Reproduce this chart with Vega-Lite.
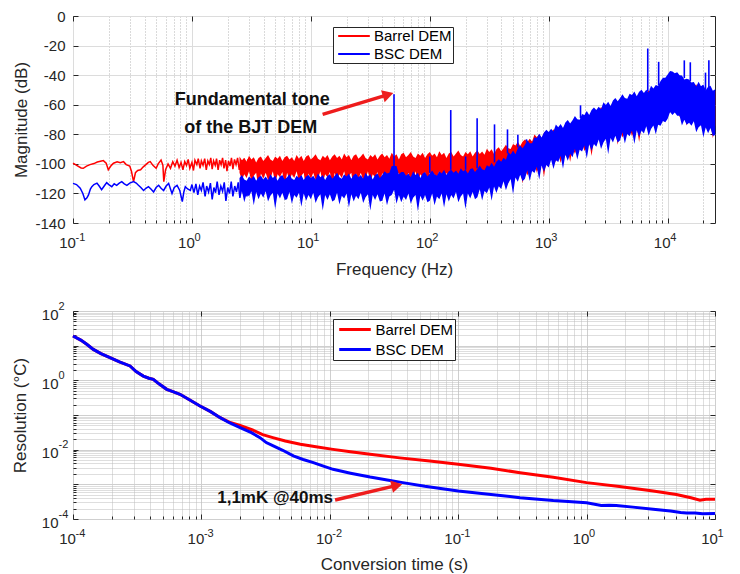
{
  "$schema": "https://vega.github.io/schema/vega-lite/v6.json",
  "padding": {"left": 10, "top": 8, "right": 2, "bottom": 2},
  "background": "white",
  "spacing": 21,
  "datasets": {
    "redLine": [
      {"f":0.1,"m":-99.6},{"f":0.105,"m":-100.5},{"f":0.11,"m":-101.5},{"f":0.117,"m":-102.8},{"f":0.122,"m":-103},{"f":0.13,"m":-101.5},{"f":0.139,"m":-100.5},{"f":0.15,"m":-99.8},{"f":0.16,"m":-98.8},{"f":0.17,"m":-98.3},{"f":0.18,"m":-97.8},{"f":0.19,"m":-99.5},{"f":0.198,"m":-104},{"f":0.21,"m":-101},{"f":0.219,"m":-99.6},{"f":0.235,"m":-98.6},{"f":0.25,"m":-99.3},{"f":0.266,"m":-98.5},{"f":0.28,"m":-100.5},{"f":0.3,"m":-101.5},{"f":0.31,"m":-105},{"f":0.323,"m":-112},{"f":0.335,"m":-106},{"f":0.35,"m":-104.5},{"f":0.37,"m":-104},{"f":0.39,"m":-102},{"f":0.41,"m":-100.5},{"f":0.43,"m":-99},{"f":0.446,"m":-98.5},{"f":0.47,"m":-101},{"f":0.5,"m":-103},{"f":0.52,"m":-100},{"f":0.55,"m":-97.4},{"f":0.57,"m":-101},{"f":0.58,"m":-112},{"f":0.6,"m":-104},{"f":0.63,"m":-100},{"f":0.66,"m":-103},{"f":0.69,"m":-98.5},{"f":0.72,"m":-101.5},{"f":0.75,"m":-97.5},{"f":0.78,"m":-102.5},{"f":0.81,"m":-99},{"f":0.84,"m":-104},{"f":0.87,"m":-98.5},{"f":0.9,"m":-101},{"f":0.93,"m":-97},{"f":0.96,"m":-103},{"f":1.0,"m":-99},{"f":1.03,"m":-104.5},{"f":1.06,"m":-97.5},{"f":1.1,"m":-100.5},{"f":1.13,"m":-96.5},{"f":1.17,"m":-103},{"f":1.2,"m":-98},{"f":1.24,"m":-101},{"f":1.28,"m":-96.5},{"f":1.32,"m":-104},{"f":1.36,"m":-98},{"f":1.4,"m":-100.5},{"f":1.44,"m":-96},{"f":1.48,"m":-103.5},{"f":1.52,"m":-98},{"f":1.57,"m":-101},{"f":1.61,"m":-96.5},{"f":1.66,"m":-104},{"f":1.71,"m":-97.5},{"f":1.76,"m":-100.5},{"f":1.81,"m":-96},{"f":1.86,"m":-103},{"f":1.92,"m":-97.5},{"f":1.97,"m":-105},{"f":2.03,"m":-98},{"f":2.09,"m":-101.5},{"f":2.15,"m":-96},{"f":2.21,"m":-103.5},{"f":2.28,"m":-97},{"f":2.35,"m":-100.5},{"f":2.42,"m":-96},{"f":2.5,"m":-104},{"f":2.58,"m":-97.5},{"f":2.66,"m":-101},{"f":2.75,"m":-96.5},{"f":2.85,"m":-103},{"f":2.95,"m":-97}
    ],
    "blueLine": [
      {"f":0.1,"m":-113.2},{"f":0.107,"m":-114},{"f":0.115,"m":-116.5},{"f":0.121,"m":-120},{"f":0.126,"m":-124.4},{"f":0.131,"m":-123},{"f":0.135,"m":-121},{"f":0.14,"m":-117},{"f":0.144,"m":-115.4},{"f":0.15,"m":-114},{"f":0.159,"m":-113},{"f":0.166,"m":-115},{"f":0.174,"m":-117.5},{"f":0.183,"m":-115},{"f":0.192,"m":-112.7},{"f":0.2,"m":-114},{"f":0.212,"m":-115.4},{"f":0.222,"m":-113.5},{"f":0.233,"m":-114.5},{"f":0.245,"m":-113},{"f":0.257,"m":-112},{"f":0.27,"m":-113.5},{"f":0.284,"m":-114.5},{"f":0.3,"m":-113},{"f":0.323,"m":-112},{"f":0.34,"m":-113},{"f":0.355,"m":-114.5},{"f":0.372,"m":-116},{"f":0.392,"m":-118},{"f":0.41,"m":-116.5},{"f":0.431,"m":-115.4},{"f":0.452,"m":-117},{"f":0.476,"m":-119},{"f":0.5,"m":-116},{"f":0.525,"m":-114.5},{"f":0.55,"m":-116.5},{"f":0.578,"m":-118},{"f":0.607,"m":-115},{"f":0.637,"m":-113.2},{"f":0.66,"m":-117},{"f":0.68,"m":-120},{"f":0.71,"m":-116},{"f":0.75,"m":-114.5},{"f":0.79,"m":-118},{"f":0.83,"m":-125.5},{"f":0.855,"m":-119},{"f":0.88,"m":-115.4},{"f":0.92,"m":-117},{"f":0.97,"m":-118},{"f":1.0,"m":-114},{"f":1.04,"m":-119.5},{"f":1.08,"m":-113.5},{"f":1.12,"m":-121},{"f":1.16,"m":-115},{"f":1.2,"m":-118},{"f":1.24,"m":-112.5},{"f":1.29,"m":-122},{"f":1.33,"m":-115},{"f":1.38,"m":-119},{"f":1.43,"m":-113},{"f":1.48,"m":-124},{"f":1.53,"m":-116},{"f":1.58,"m":-119.5},{"f":1.63,"m":-112},{"f":1.69,"m":-121},{"f":1.75,"m":-115},{"f":1.81,"m":-118.5},{"f":1.87,"m":-112.5},{"f":1.93,"m":-125},{"f":2.0,"m":-116},{"f":2.07,"m":-120},{"f":2.14,"m":-112},{"f":2.21,"m":-122},{"f":2.29,"m":-115},{"f":2.37,"m":-119},{"f":2.45,"m":-112.5},{"f":2.53,"m":-123},{"f":2.62,"m":-116},{"f":2.71,"m":-120},{"f":2.8,"m":-112},{"f":2.9,"m":-122},{"f":3.0,"m":-115}
    ],
    "redBand": [
      {"f":2.512,"lo":-106,"hi":-95},{"f":2.63,"lo":-111,"hi":-97.5},{"f":2.754,"lo":-107,"hi":-96},{"f":2.884,"lo":-109.5,"hi":-98.5},{"f":3.02,"lo":-105,"hi":-94.5},{"f":3.162,"lo":-112,"hi":-97},{"f":3.311,"lo":-108,"hi":-95.5},{"f":3.467,"lo":-106,"hi":-99},{"f":3.631,"lo":-117,"hi":-96},{"f":3.802,"lo":-106.5,"hi":-95},
      {"f":3.981,"lo":-110,"hi":-98},{"f":4.169,"lo":-106,"hi":-96},{"f":4.365,"lo":-111,"hi":-94},{"f":4.571,"lo":-110,"hi":-97},{"f":4.786,"lo":-105,"hi":-98},{"f":5.012,"lo":-113,"hi":-95},{"f":5.248,"lo":-107,"hi":-96.5},{"f":5.495,"lo":-109,"hi":-94.5},{"f":5.754,"lo":-105.5,"hi":-98},{"f":6.026,"lo":-115,"hi":-95.5},
      {"f":6.31,"lo":-106,"hi":-94.5},{"f":6.607,"lo":-111,"hi":-97},{"f":6.918,"lo":-107,"hi":-95.5},{"f":7.244,"lo":-109.5,"hi":-98},{"f":7.586,"lo":-105,"hi":-94},{"f":7.943,"lo":-112,"hi":-96.5},{"f":8.318,"lo":-108,"hi":-94.5},{"f":8.71,"lo":-106,"hi":-98},{"f":9.12,"lo":-117,"hi":-95},{"f":9.55,"lo":-106.5,"hi":-94},
      {"f":10,"lo":-110,"hi":-97},{"f":10.47,"lo":-106,"hi":-95.5},{"f":10.96,"lo":-111,"hi":-93.5},{"f":11.48,"lo":-110,"hi":-96.5},{"f":12.02,"lo":-105,"hi":-97.5},{"f":12.59,"lo":-113,"hi":-94.5},{"f":13.18,"lo":-107,"hi":-96},{"f":13.8,"lo":-109,"hi":-94},{"f":14.45,"lo":-105.5,"hi":-97.5},{"f":15.14,"lo":-115,"hi":-95},
      {"f":15.85,"lo":-106,"hi":-93.5},{"f":16.6,"lo":-111,"hi":-96},{"f":17.38,"lo":-107,"hi":-94.5},{"f":18.2,"lo":-109.5,"hi":-97},{"f":19.05,"lo":-105,"hi":-93},{"f":19.95,"lo":-112,"hi":-95.5},{"f":20.89,"lo":-108,"hi":-94},{"f":21.88,"lo":-106,"hi":-97.5},{"f":22.91,"lo":-117,"hi":-94.5},{"f":23.99,"lo":-106.5,"hi":-93.5},
      {"f":25.12,"lo":-110,"hi":-96.5},{"f":26.3,"lo":-106,"hi":-95},{"f":27.54,"lo":-111,"hi":-93},{"f":28.84,"lo":-110,"hi":-96},{"f":30.2,"lo":-105,"hi":-97},{"f":31.62,"lo":-113,"hi":-94},{"f":33.11,"lo":-107,"hi":-95.5},{"f":34.67,"lo":-109,"hi":-93.5},{"f":36.31,"lo":-105.5,"hi":-97},{"f":38.02,"lo":-115,"hi":-94.5},
      {"f":39.81,"lo":-106,"hi":-93},{"f":41.69,"lo":-111,"hi":-95.5},{"f":43.65,"lo":-107,"hi":-94},{"f":45.71,"lo":-109.5,"hi":-96.5},{"f":47.86,"lo":-105,"hi":-92.5},{"f":50.12,"lo":-112,"hi":-95},{"f":52.48,"lo":-108,"hi":-93.5},{"f":54.95,"lo":-106,"hi":-97},{"f":57.54,"lo":-117,"hi":-93.5},{"f":60.26,"lo":-106.5,"hi":-92.5},
      {"f":63.1,"lo":-110,"hi":-95.5},{"f":66.07,"lo":-106,"hi":-94},{"f":69.18,"lo":-111,"hi":-92},{"f":72.44,"lo":-110,"hi":-95},{"f":75.86,"lo":-105,"hi":-96},{"f":79.43,"lo":-113,"hi":-93},{"f":83.18,"lo":-107,"hi":-94.5},{"f":87.1,"lo":-109,"hi":-92.5},{"f":91.2,"lo":-105.5,"hi":-96},{"f":95.5,"lo":-115,"hi":-93.5},
      {"f":100,"lo":-106,"hi":-92},{"f":104.7,"lo":-111,"hi":-94.5},{"f":109.6,"lo":-107,"hi":-93},{"f":114.8,"lo":-109.5,"hi":-95.5},{"f":120.2,"lo":-105,"hi":-91.5},{"f":125.9,"lo":-112,"hi":-94},{"f":131.8,"lo":-108,"hi":-92.5},{"f":138,"lo":-106,"hi":-96},{"f":144.5,"lo":-117,"hi":-93},{"f":151.4,"lo":-106.5,"hi":-92},
      {"f":158.5,"lo":-110,"hi":-95},{"f":166,"lo":-106,"hi":-93},{"f":173.8,"lo":-111,"hi":-91},{"f":182,"lo":-110,"hi":-94},{"f":190.5,"lo":-105,"hi":-95},{"f":199.5,"lo":-113,"hi":-92},{"f":208.9,"lo":-107,"hi":-93.5},{"f":218.8,"lo":-109,"hi":-91.5},{"f":229.1,"lo":-105.5,"hi":-95},{"f":239.9,"lo":-115,"hi":-92.5},
      {"f":251.2,"lo":-106,"hi":-91},{"f":263,"lo":-111,"hi":-93.3},{"f":275.4,"lo":-107,"hi":-91.6},{"f":288.4,"lo":-109.5,"hi":-93.9},{"f":302,"lo":-105,"hi":-89.7},{"f":316.2,"lo":-112,"hi":-92},{"f":331.1,"lo":-108,"hi":-90.2},{"f":346.7,"lo":-106,"hi":-93.4},{"f":363.1,"lo":-117,"hi":-90.1},{"f":380.2,"lo":-106.5,"hi":-88.8},
      {"f":398.1,"lo":-115,"hi":-91.5},{"f":416.9,"lo":-110.2,"hi":-89.5},{"f":436.5,"lo":-114.4,"hi":-87},{"f":457.1,"lo":-112.6,"hi":-89.5},{"f":478.6,"lo":-106.8,"hi":-90},{"f":501.2,"lo":-114,"hi":-86.5},{"f":524.8,"lo":-107.3,"hi":-87.5},{"f":549.5,"lo":-108.6,"hi":-85},{"f":575.4,"lo":-104.4,"hi":-88},{"f":602.6,"lo":-113.2,"hi":-85},
      {"f":631,"lo":-103.5,"hi":-83.5},{"f":660.7,"lo":-107.8,"hi":-85.3},{"f":691.8,"lo":-103.1,"hi":-83.1},{"f":724.4,"lo":-104.9,"hi":-84.9},{"f":758.6,"lo":-99.7,"hi":-80.2},{"f":794.3,"lo":-106,"hi":-82},{"f":831.8,"lo":-101.3,"hi":-79.9},{"f":871,"lo":-98.6,"hi":-82.8},{"f":912,"lo":-108.9,"hi":-79.2},{"f":955,"lo":-97.7,"hi":-77.6},
      {"f":1000,"lo":-100.5,"hi":-81.5},{"f":1047,"lo":-95.7,"hi":-79.3},{"f":1096,"lo":-99.9,"hi":-76.6},{"f":1148,"lo":-98.1,"hi":-78.9},{"f":1202,"lo":-92.3,"hi":-79.2},{"f":1259,"lo":-99.5,"hi":-75.5},{"f":1318,"lo":-92.8,"hi":-76.3},{"f":1380,"lo":-94.6,"hi":-73.6},{"f":1445,"lo":-89.9,"hi":-76.4},{"f":1514,"lo":-98.7,"hi":-73.2},
      {"f":1585,"lo":-89,"hi":-71.5},{"f":1660,"lo":-93.3,"hi":-73.2},{"f":1738,"lo":-88.6,"hi":-70.9},{"f":1820,"lo":-90.4,"hi":-72.6},{"f":1905,"lo":-85.2,"hi":-67.8},{"f":1995,"lo":-91.5,"hi":-69.5},{"f":2089,"lo":-86.9,"hi":-67.2},{"f":2188,"lo":-84.3,"hi":-69.9},{"f":2291,"lo":-94.7,"hi":-66.1},{"f":2399,"lo":-83.6,"hi":-64.3},
      {"f":2512,"lo":-86.5,"hi":-66.5},{"f":2630,"lo":-82,"hi":-64.3},{"f":2754,"lo":-86.5,"hi":-61.6},{"f":2884,"lo":-85,"hi":-63.9},{"f":3020,"lo":-79.5,"hi":-64.2},{"f":3162,"lo":-87,"hi":-60.5},{"f":3311,"lo":-80.5,"hi":-61.3},{"f":3467,"lo":-82,"hi":-58.6},{"f":3631,"lo":-78,"hi":-61.4},{"f":3802,"lo":-87,"hi":-58.2},
      {"f":3981,"lo":-77.5,"hi":-56.5},{"f":4169,"lo":-82.1,"hi":-58.5},{"f":4365,"lo":-77.7,"hi":-56.5},{"f":4571,"lo":-79.8,"hi":-58.5},{"f":4786,"lo":-74.9,"hi":-54},{"f":5012,"lo":-81.5,"hi":-56},{"f":5248,"lo":-77.1,"hi":-54},{"f":5495,"lo":-74.7,"hi":-57},{"f":5754,"lo":-85.3,"hi":-53.5},{"f":6026,"lo":-74.4,"hi":-52},
      {"f":6310,"lo":-77.5,"hi":-55},{"f":6607,"lo":-73,"hi":-52.9},{"f":6918,"lo":-77.5,"hi":-50.3},{"f":7244,"lo":-76,"hi":-52.6},{"f":7586,"lo":-70.5,"hi":-53},{"f":7943,"lo":-75.5,"hi":-49.2},{"f":8318,"lo":-71.3,"hi":-48.8},{"f":8710,"lo":-71.2,"hi":-46},{"f":9120,"lo":-68.3,"hi":-46},{"f":9550,"lo":-71.3,"hi":-43.3},
      {"f":10000,"lo":-65,"hi":-41.3},{"f":10471,"lo":-65.5,"hi":-41.2},{"f":10965,"lo":-61.5,"hi":-39.3},{"f":11482,"lo":-64,"hi":-41.2},{"f":12023,"lo":-63,"hi":-40},{"f":12589,"lo":-68.2,"hi":-42.5},{"f":13183,"lo":-68,"hi":-43},{"f":13804,"lo":-67.7,"hi":-45.7},{"f":14454,"lo":-74,"hi":-45},{"f":15136,"lo":-69.5,"hi":-45.4},
      {"f":15849,"lo":-72,"hi":-47.8},{"f":16596,"lo":-69.6,"hi":-47.6},{"f":17378,"lo":-75.2,"hi":-46.2},{"f":18197,"lo":-74.8,"hi":-49.9},{"f":19055,"lo":-70.4,"hi":-51.5},{"f":19953,"lo":-79,"hi":-48.9},{"f":20893,"lo":-73.4,"hi":-50.8},{"f":21878,"lo":-75.8,"hi":-49.3},{"f":22909,"lo":-72.7,"hi":-53.2},{"f":23988,"lo":-82.6,"hi":-51.1},{"f":25119,"lo":-74,"hi":-50.5}
    ],
    "blueBand": [
      {"f":2.512,"lo":-123,"hi":-109.5},{"f":2.63,"lo":-118,"hi":-107.5},{"f":2.754,"lo":-126,"hi":-110.5},{"f":2.884,"lo":-120,"hi":-111.5},{"f":3.02,"lo":-122,"hi":-108.5},{"f":3.162,"lo":-118.5,"hi":-110},{"f":3.311,"lo":-128,"hi":-108},{"f":3.467,"lo":-119,"hi":-111.5},{"f":3.631,"lo":-124,"hi":-109},{"f":3.802,"lo":-120,"hi":-108},
      {"f":3.981,"lo":-123,"hi":-110.5},{"f":4.169,"lo":-118.5,"hi":-108.5},{"f":4.365,"lo":-125.5,"hi":-111},{"f":4.571,"lo":-121.5,"hi":-107},{"f":4.786,"lo":-119.5,"hi":-109.5},{"f":5.012,"lo":-130.5,"hi":-108},{"f":5.248,"lo":-120,"hi":-111.5},{"f":5.495,"lo":-123.5,"hi":-108.5},{"f":5.754,"lo":-119.5,"hi":-107.5},{"f":6.026,"lo":-124.5,"hi":-110.5},
      {"f":6.31,"lo":-124,"hi":-109},{"f":6.607,"lo":-119,"hi":-107},{"f":6.918,"lo":-127,"hi":-110},{"f":7.244,"lo":-121,"hi":-111},{"f":7.586,"lo":-123,"hi":-108},{"f":7.943,"lo":-119.5,"hi":-109.5},{"f":8.318,"lo":-129,"hi":-107.5},{"f":8.71,"lo":-120,"hi":-111},{"f":9.12,"lo":-125,"hi":-108.5},{"f":9.55,"lo":-121,"hi":-107.5},
      {"f":10,"lo":-124,"hi":-109.5},{"f":10.47,"lo":-119.5,"hi":-108},{"f":10.96,"lo":-126.5,"hi":-110.5},{"f":11.48,"lo":-122.5,"hi":-106.5},{"f":12.02,"lo":-120.5,"hi":-109},{"f":12.59,"lo":-131.5,"hi":-107.5},{"f":13.18,"lo":-121,"hi":-111},{"f":13.8,"lo":-124.5,"hi":-108},{"f":14.45,"lo":-120.5,"hi":-107},{"f":15.14,"lo":-125.5,"hi":-110},
      {"f":15.85,"lo":-124.5,"hi":-108},{"f":16.6,"lo":-119.5,"hi":-106},{"f":17.38,"lo":-127.5,"hi":-109},{"f":18.2,"lo":-121.5,"hi":-110},{"f":19.05,"lo":-123.5,"hi":-107},{"f":19.95,"lo":-120,"hi":-108.5},{"f":20.89,"lo":-129.5,"hi":-106.5},{"f":21.88,"lo":-120.5,"hi":-110},{"f":22.91,"lo":-125.5,"hi":-107.5},{"f":23.99,"lo":-121.5,"hi":-106.5},
      {"f":25.12,"lo":-124,"hi":-109},{"f":26.3,"lo":-119.5,"hi":-107.5},{"f":27.54,"lo":-126.5,"hi":-110},{"f":28.84,"lo":-122.5,"hi":-106},{"f":30.2,"lo":-120.5,"hi":-108.5},{"f":31.62,"lo":-131.5,"hi":-107},{"f":33.11,"lo":-121,"hi":-110.5},{"f":34.67,"lo":-124.5,"hi":-107.5},{"f":36.31,"lo":-120.5,"hi":-106.5},{"f":38.02,"lo":-125.5,"hi":-109.5},
      {"f":39.81,"lo":-125,"hi":-107.5},{"f":41.69,"lo":-120,"hi":-105},{"f":43.65,"lo":-128,"hi":-106.5},{"f":45.71,"lo":-122,"hi":-106},{"f":47.86,"lo":-121,"hi":-101.5},{"f":50.12,"lo":-117.5,"hi":-101.5},{"f":52.48,"lo":-127,"hi":-101.5},{"f":54.95,"lo":-121,"hi":-107},{"f":57.54,"lo":-126,"hi":-105.5},{"f":60.26,"lo":-122,"hi":-105.5},
      {"f":63.1,"lo":-124.5,"hi":-108},{"f":66.07,"lo":-120,"hi":-106.5},{"f":69.18,"lo":-127,"hi":-109},{"f":72.44,"lo":-123,"hi":-105},{"f":75.86,"lo":-121,"hi":-107.5},{"f":79.43,"lo":-132,"hi":-106},{"f":83.18,"lo":-121.5,"hi":-109.5},{"f":87.1,"lo":-125,"hi":-106.5},{"f":91.2,"lo":-121,"hi":-105.5},{"f":95.5,"lo":-126,"hi":-108.5},
      {"f":100,"lo":-125,"hi":-106.5},{"f":104.7,"lo":-120,"hi":-104.5},{"f":109.6,"lo":-128,"hi":-107},{"f":114.8,"lo":-122,"hi":-108},{"f":120.2,"lo":-124,"hi":-105},{"f":125.9,"lo":-120,"hi":-106.5},{"f":131.8,"lo":-129.5,"hi":-104},{"f":138,"lo":-120.5,"hi":-107.5},{"f":144.5,"lo":-125.5,"hi":-105},{"f":151.4,"lo":-121,"hi":-104},
      {"f":158.5,"lo":-123.5,"hi":-106},{"f":166,"lo":-119,"hi":-104.5},{"f":173.8,"lo":-126,"hi":-106.7},{"f":182,"lo":-122,"hi":-103},{"f":190.5,"lo":-120,"hi":-105},{"f":199.5,"lo":-130.5,"hi":-104},{"f":208.9,"lo":-120,"hi":-106.5},{"f":218.8,"lo":-123.5,"hi":-103.5},{"f":229.1,"lo":-119,"hi":-103},{"f":239.9,"lo":-124,"hi":-105.5},
      {"f":251.2,"lo":-122.5,"hi":-103.5},{"f":263,"lo":-117.1,"hi":-101.1},{"f":275.4,"lo":-124.7,"hi":-103.7},{"f":288.4,"lo":-118.3,"hi":-104.3},{"f":302,"lo":-119.9,"hi":-100.9},{"f":316.2,"lo":-116,"hi":-102},{"f":331.1,"lo":-124.9,"hi":-99.2},{"f":346.7,"lo":-115.3,"hi":-101.9},{"f":363.1,"lo":-119.7,"hi":-98.6},{"f":380.2,"lo":-115.1,"hi":-96.8},
      {"f":398.1,"lo":-117,"hi":-98.5},{"f":416.9,"lo":-111.7,"hi":-95.9},{"f":436.5,"lo":-117.9,"hi":-97.3},{"f":457.1,"lo":-113.1,"hi":-92.2},{"f":478.6,"lo":-110.3,"hi":-93.6},{"f":501.2,"lo":-120.5,"hi":-91},{"f":524.8,"lo":-109.3,"hi":-93.5},{"f":549.5,"lo":-112.1,"hi":-89.5},{"f":575.4,"lo":-107.4,"hi":-87.5},{"f":602.6,"lo":-111.7,"hi":-89.5},
      {"f":631,"lo":-110,"hi":-87},{"f":660.7,"lo":-104.3,"hi":-84},{"f":691.8,"lo":-111.6,"hi":-86},{"f":724.4,"lo":-104.9,"hi":-86},{"f":758.6,"lo":-106.2,"hi":-82},{"f":794.3,"lo":-102,"hi":-82.5},{"f":831.8,"lo":-110.8,"hi":-79.6},{"f":871,"lo":-101.1,"hi":-82.2},{"f":912,"lo":-105.4,"hi":-78.8},{"f":955,"lo":-100.7,"hi":-76.9},
      {"f":1000,"lo":-102.5,"hi":-78.5},{"f":1047,"lo":-97.2,"hi":-76.3},{"f":1096,"lo":-103.4,"hi":-78.1},{"f":1148,"lo":-97.6,"hi":-73.4},{"f":1202,"lo":-98.8,"hi":-75.2},{"f":1259,"lo":-94.5,"hi":-73},{"f":1318,"lo":-103.3,"hi":-75.8},{"f":1380,"lo":-93.6,"hi":-72.1},{"f":1445,"lo":-97.9,"hi":-70.4},{"f":1514,"lo":-93.2,"hi":-72.7},
      {"f":1585,"lo":-95.5,"hi":-70.5},{"f":1660,"lo":-89.8,"hi":-67.7},{"f":1738,"lo":-97.1,"hi":-69.9},{"f":1820,"lo":-90.4,"hi":-70.1},{"f":1905,"lo":-91.7,"hi":-66.3},{"f":1995,"lo":-87.5,"hi":-67},{"f":2089,"lo":-96.4,"hi":-64.2},{"f":2188,"lo":-86.8,"hi":-66.9},{"f":2291,"lo":-91.2,"hi":-63.6},{"f":2399,"lo":-86.6,"hi":-61.8},
      {"f":2512,"lo":-88.5,"hi":-63.5},{"f":2630,"lo":-83.5,"hi":-61.3},{"f":2754,"lo":-90,"hi":-63.1},{"f":2884,"lo":-85.5,"hi":-58.4},{"f":3020,"lo":-83,"hi":-60.2},{"f":3162,"lo":-93.5,"hi":-58},{"f":3311,"lo":-82.5,"hi":-60.8},{"f":3467,"lo":-85.5,"hi":-57.1},{"f":3631,"lo":-81,"hi":-55.4},{"f":3802,"lo":-85.5,"hi":-57.7},
      {"f":3981,"lo":-84,"hi":-55.5},{"f":4169,"lo":-78.6,"hi":-53},{"f":4365,"lo":-86.2,"hi":-55.5},{"f":4571,"lo":-79.8,"hi":-56},{"f":4786,"lo":-81.4,"hi":-52.5},{"f":5012,"lo":-77.5,"hi":-53.5},{"f":5248,"lo":-86.6,"hi":-51.1},{"f":5495,"lo":-77.2,"hi":-54.2},{"f":5754,"lo":-81.8,"hi":-51.3},{"f":6026,"lo":-77.4,"hi":-49.9},
      {"f":6310,"lo":-79.5,"hi":-52},{"f":6607,"lo":-74.5,"hi":-49.9},{"f":6918,"lo":-81,"hi":-51.8},{"f":7244,"lo":-76.5,"hi":-47.1},{"f":7586,"lo":-74,"hi":-49},{"f":7943,"lo":-80,"hi":-46.7},{"f":8318,"lo":-73.6,"hi":-47.3},{"f":8710,"lo":-74.2,"hi":-44},{"f":9120,"lo":-71,"hi":-41.8},{"f":9550,"lo":-71.8,"hi":-41.8},
      {"f":10000,"lo":-69.5,"hi":-39.5},{"f":10471,"lo":-65,"hi":-37.2},{"f":10965,"lo":-67,"hi":-37.5},{"f":11482,"lo":-65.2,"hi":-38.7},{"f":12023,"lo":-67.5,"hi":-38},{"f":12589,"lo":-67.5,"hi":-40},{"f":13183,"lo":-74,"hi":-40.3},{"f":13804,"lo":-70.2,"hi":-42.9},{"f":14454,"lo":-73.5,"hi":-42.5},{"f":15136,"lo":-72.2,"hi":-42.9},
      {"f":15849,"lo":-74.3,"hi":-45},{"f":16596,"lo":-71.1,"hi":-44.6},{"f":17378,"lo":-78.7,"hi":-47.7},{"f":18197,"lo":-75.3,"hi":-44.4},{"f":19055,"lo":-73.9,"hi":-47.5},{"f":19953,"lo":-82,"hi":-46.4},{"f":20893,"lo":-75.4,"hi":-50.3},{"f":21878,"lo":-79.3,"hi":-47.8},{"f":22909,"lo":-75.7,"hi":-47.2},{"f":23988,"lo":-81.1,"hi":-50.6},{"f":25119,"lo":-80.5,"hi":-49.5}
    ],
    "spikes": [
      {"f":50,"base":-101.5,"peak":-53},{"f":100,"base":-106,"peak":-95},{"f":150,"base":-104,"peak":-63.6},{"f":200,"base":-104,"peak":-95},{"f":250,"base":-103,"peak":-69.2},{"f":350,"base":-99,"peak":-73.3},{"f":450,"base":-93,"peak":-76.7},{"f":550,"base":-89,"peak":-80.3},{"f":650,"base":-85,"peak":-83.4},{"f":1850,"base":-69,"peak":-60.4},{"f":6800,"base":-51,"peak":-22},{"f":8400,"base":-47,"peak":-31},{"f":13800,"base":-42,"peak":-30},{"f":15500,"base":-44,"peak":-31.3},{"f":20800,"base":-50,"peak":-38.3},{"f":22200,"base":-48,"peak":-30}
    ],
    "notesTop": [
      {"f":3.22,"m":-56.8,"label":"Fundamental tone"},
      {"f":3.12,"m":-76,"label":"of the BJT DEM"}
    ],
    "arrowTop": [{"f":12.56,"m":-66.5,"f2":44.6,"m2":-53.2}],
    "headTop": [{"f":44.6,"m":-53.2}],
    "blueRes": [
      {"t":0.0001,"r":19},{"t":0.000115,"r":14.5},{"t":0.000128,"r":11},{"t":0.000144,"r":7.8},{"t":0.000165,"r":5.9},{"t":0.000194,"r":4.5},{"t":0.00023,"r":3.4},{"t":0.000278,"r":2.6},{"t":0.00031,"r":1.8},{"t":0.000353,"r":1.33},{"t":0.00039,"r":1.15},{"t":0.000422,"r":1.07},{"t":0.00047,"r":0.78},{"t":0.000537,"r":0.55},{"t":0.0006,"r":0.47},{"t":0.000681,"r":0.395},{"t":0.0008,"r":0.28},{"t":0.000975,"r":0.182},{"t":0.00118,"r":0.125},{"t":0.0014,"r":0.0838},{"t":0.00165,"r":0.06},{"t":0.002,"r":0.0432},{"t":0.00245,"r":0.031},{"t":0.00286,"r":0.0222},{"t":0.0032,"r":0.016},{"t":0.00363,"r":0.0128},{"t":0.0043,"r":0.0096},{"t":0.0052,"r":0.0066},{"t":0.0062,"r":0.0052},{"t":0.00745,"r":0.00422},{"t":0.0088,"r":0.0034},{"t":0.0106,"r":0.00271},{"t":0.0145,"r":0.0021},{"t":0.0206,"r":0.00162},{"t":0.028,"r":0.00133},{"t":0.037,"r":0.00112},{"t":0.055,"r":0.00088},{"t":0.1,"r":0.000646},{"t":0.18,"r":0.00051},{"t":0.303,"r":0.000412},{"t":0.55,"r":0.00034},{"t":1.0,"r":0.000295},{"t":1.3,"r":0.000245},{"t":1.5,"r":0.000248},{"t":1.7,"r":0.000245},{"t":2.3,"r":0.00022},{"t":3.3,"r":0.00019},{"t":4.5,"r":0.00017},{"t":5.4,"r":0.000155},{"t":6.0,"r":0.00015},{"t":7.0,"r":0.000148},{"t":8.0,"r":0.000142},{"t":10,"r":0.000143}
    ],
    "redRes": [
      {"t":0.0001,"r":19},{"t":0.000115,"r":14.5},{"t":0.000128,"r":11},{"t":0.000144,"r":7.8},{"t":0.000165,"r":5.9},{"t":0.000194,"r":4.5},{"t":0.00023,"r":3.4},{"t":0.000278,"r":2.6},{"t":0.00031,"r":1.8},{"t":0.000353,"r":1.33},{"t":0.00039,"r":1.15},{"t":0.000422,"r":1.07},{"t":0.00047,"r":0.78},{"t":0.000537,"r":0.55},{"t":0.0006,"r":0.47},{"t":0.000681,"r":0.395},{"t":0.0008,"r":0.28},{"t":0.000975,"r":0.182},{"t":0.00118,"r":0.125},{"t":0.0014,"r":0.0838},{"t":0.00165,"r":0.062},{"t":0.002,"r":0.05},{"t":0.0025,"r":0.037},{"t":0.003,"r":0.027},{"t":0.0036,"r":0.0222},{"t":0.0045,"r":0.0178},{"t":0.0059,"r":0.01426},{"t":0.0078,"r":0.0121},{"t":0.0106,"r":0.0102},{"t":0.0145,"r":0.0087},{"t":0.0206,"r":0.00735},{"t":0.035,"r":0.0058},{"t":0.06,"r":0.0047},{"t":0.1,"r":0.00378},{"t":0.18,"r":0.0029},{"t":0.303,"r":0.00217},{"t":0.55,"r":0.0016},{"t":1.0,"r":0.00112},{"t":1.8,"r":0.00087},{"t":3.3,"r":0.000646},{"t":5.0,"r":0.00051},{"t":6.5,"r":0.00041},{"t":7.64,"r":0.000347},{"t":8.5,"r":0.00037},{"t":10,"r":0.000372}
    ],
    "notesBot": [{"t":0.0106,"r":0.000404,"label":"1,1mK @40ms"}],
    "arrowBot": [{"t":0.011,"r":0.000354,"t2":0.0333,"r2":0.000933}],
    "headBot": [{"t":0.0333,"r":0.000933}]
  },
  "vconcat": [
    {
      "width": 642,
      "height": 207,
      "layer": [
        {
          "data": {"name": "redBand"},
          "mark": {"type": "area", "color": "#ff0000", "opacity": 1},
          "encoding": {
            "x": {"field": "f", "type": "quantitative", "scale": {"type": "log", "domain": [0.1, 25000], "nice": false},
              "axis": {"orient": "bottom", "values": [0.1, 1, 10, 100, 1000, 10000], "labelExpr": "'10'", "labelOffset": -6, "title": "Frequency (Hz)", "grid": true, "tickSize": -5, "labelPadding": 17, "titlePadding": 11}},
            "y": {"field": "lo", "type": "quantitative", "scale": {"domain": [-140, 0], "nice": false, "zero": false},
              "axis": {"orient": "left", "values": [-140, -120, -100, -80, -60, -40, -20, 0], "labelExpr": "'' + datum.value", "title": "Magnitude (dB)", "grid": true, "tickSize": -5, "labelPadding": 13, "titlePadding": 4}},
            "y2": {"field": "hi"}
          }
        },
        {
          "data": {"name": "blueBand"},
          "mark": {"type": "area", "color": "#0000ff", "opacity": 1},
          "encoding": {
            "x": {"field": "f", "type": "quantitative", "scale": {"type": "log", "domain": [0.1, 25000], "nice": false},
              "axis": {"orient": "bottom", "values": [0.2,0.3,0.4,0.5,0.6,0.7,0.8,0.9,2,3,4,5,6,7,8,9,20,30,40,50,60,70,80,90,200,300,400,500,600,700,800,900,2000,3000,4000,5000,6000,7000,8000,9000,20000], "labels": false, "grid": true, "gridDash": [1, 2], "gridColor": "#b5b5b5", "tickSize": -3, "title": null}},
            "y": {"field": "lo", "type": "quantitative", "scale": {"domain": [-140, 0], "nice": false, "zero": false},
              "axis": {"orient": "right", "values": [-140, -120, -100, -80, -60, -40, -20, 0], "labels": false, "grid": false, "tickSize": -5, "title": null}},
            "y2": {"field": "hi"}
          }
        },
        {
          "data": {"name": "redLine"},
          "mark": {"type": "line", "strokeWidth": 1.5},
          "encoding": {
            "x": {"field": "f", "type": "quantitative", "scale": {"type": "log", "domain": [0.1, 25000], "nice": false},
              "axis": {"orient": "top", "values": [0.1, 1, 10, 100, 1000, 10000], "labels": false, "grid": false, "tickSize": -5, "title": null}},
            "y": {"field": "m", "type": "quantitative", "scale": {"domain": [-140, 0], "nice": false, "zero": false}, "axis": null},
            "color": {"datum": "Barrel DEM", "scale": {"domain": ["Barrel DEM", "BSC DEM"], "range": ["#ff0000", "#0000ff"]},
              "legend": {"orient": "none", "legendX": 260, "legendY": 11, "title": null, "symbolType": "stroke", "symbolStrokeWidth": 1.8, "symbolSize": 1000, "clipHeight": 16, "padding": 1, "rowPadding": 2, "symbolOffset": 3}}
          }
        },
        {
          "data": {"name": "blueLine"},
          "mark": {"type": "line", "strokeWidth": 1.5},
          "encoding": {
            "x": {"field": "f", "type": "quantitative", "scale": {"type": "log", "domain": [0.1, 25000], "nice": false},
              "axis": {"orient": "bottom", "values": [0.1, 1, 10, 100, 1000, 10000], "labelExpr": "datum.value < 0.5 ? '-1' : datum.value < 5 ? '0' : datum.value < 50 ? '1' : datum.value < 500 ? '2' : datum.value < 5000 ? '3' : '4'", "labelFontSize": 11, "labelAlign": "left", "labelOffset": 2, "labelPadding": 8, "ticks": false, "grid": false, "title": null}},
            "y": {"field": "m", "type": "quantitative", "scale": {"domain": [-140, 0], "nice": false, "zero": false}, "axis": null},
            "color": {"datum": "BSC DEM", "scale": {"domain": ["Barrel DEM", "BSC DEM"], "range": ["#ff0000", "#0000ff"]},
              "legend": {"orient": "none", "legendX": 260, "legendY": 11, "title": null, "symbolType": "stroke", "symbolStrokeWidth": 1.8, "symbolSize": 1000, "clipHeight": 16, "padding": 1, "rowPadding": 2, "symbolOffset": 3}}
          }
        },
        {
          "data": {"name": "spikes"},
          "mark": {"type": "rule", "color": "#0000ff", "strokeWidth": 1.6},
          "encoding": {
            "x": {"field": "f", "type": "quantitative", "scale": {"type": "log", "domain": [0.1, 25000], "nice": false}, "axis": null},
            "y": {"field": "base", "type": "quantitative", "scale": {"domain": [-140, 0], "nice": false, "zero": false}, "axis": null},
            "y2": {"field": "peak"}
          }
        },
        {
          "data": {"name": "arrowTop"},
          "mark": {"type": "rule", "color": "#ee1c1c", "strokeWidth": 3.5},
          "encoding": {
            "x": {"field": "f", "type": "quantitative", "scale": {"type": "log", "domain": [0.1, 25000], "nice": false}, "axis": null},
            "y": {"field": "m", "type": "quantitative", "scale": {"domain": [-140, 0], "nice": false, "zero": false}, "axis": null},
            "x2": {"field": "f2"},
            "y2": {"field": "m2"}
          }
        },
        {
          "data": {"name": "headTop"},
          "mark": {"type": "point", "shape": "triangle-right", "filled": true, "color": "#ee1c1c", "opacity": 1, "size": 160, "angle": -16.7},
          "encoding": {
            "x": {"field": "f", "type": "quantitative", "scale": {"type": "log", "domain": [0.1, 25000], "nice": false}, "axis": null},
            "y": {"field": "m", "type": "quantitative", "scale": {"domain": [-140, 0], "nice": false, "zero": false}, "axis": null}
          }
        },
        {
          "data": {"name": "notesTop"},
          "mark": {"type": "text", "font": "Liberation Sans", "fontWeight": "bold", "fontSize": 18, "color": "#111111", "align": "center", "baseline": "middle"},
          "encoding": {
            "x": {"field": "f", "type": "quantitative", "scale": {"type": "log", "domain": [0.1, 25000], "nice": false}, "axis": null},
            "y": {"field": "m", "type": "quantitative", "scale": {"domain": [-140, 0], "nice": false, "zero": false}, "axis": null},
            "text": {"field": "label"}
          }
        }
      ],
      "resolve": {"axis": {"x": "independent", "y": "independent"}}
    },
    {
      "width": 642,
      "height": 208,
      "layer": [
        {
          "data": {"name": "redRes"},
          "mark": {"type": "line", "strokeWidth": 3},
          "encoding": {
            "x": {"field": "t", "type": "quantitative", "scale": {"type": "log", "domain": [0.0001, 10], "nice": false},
              "axis": {"orient": "bottom", "values": [0.0001, 0.001, 0.01, 0.1, 1, 10], "labelExpr": "'10'", "labelOffset": -6, "title": "Conversion time (s)", "grid": true, "gridColor": "#cfcfcf", "tickSize": -5, "labelPadding": 17, "titlePadding": 10}},
            "y": {"field": "r", "type": "quantitative", "scale": {"type": "log", "domain": [0.0001, 100], "nice": false},
              "axis": {"orient": "left", "values": [0.0001, 0.001, 0.01, 0.1, 1, 10, 100], "labelExpr": "(datum.value < 0.0005 || (datum.value > 0.005 && datum.value < 0.05) || (datum.value > 0.5 && datum.value < 5) || datum.value > 50) ? '10' : ''", "labelOffset": 3, "title": "Resolution (°C)", "grid": true, "gridColor": "#cfcfcf", "tickSize": -5, "labelPadding": 20, "titlePadding": 12}},
            "color": {"datum": "Barrel DEM", "scale": {"domain": ["Barrel DEM", "BSC DEM"], "range": ["#ff0000", "#0000ff"]},
              "legend": {"orient": "none", "legendX": 260, "legendY": 8, "title": null, "symbolType": "stroke", "symbolStrokeWidth": 2.8, "symbolSize": 1000, "clipHeight": 18, "padding": 1.5, "rowPadding": 2, "symbolOffset": 3}}
          }
        },
        {
          "data": {"name": "blueRes"},
          "mark": {"type": "line", "strokeWidth": 3},
          "encoding": {
            "x": {"field": "t", "type": "quantitative", "scale": {"type": "log", "domain": [0.0001, 10], "nice": false},
              "axis": {"orient": "bottom", "values": [0.0002,0.0003,0.0004,0.0005,0.0006,0.0007,0.0008,0.0009,0.002,0.003,0.004,0.005,0.006,0.007,0.008,0.009,0.02,0.03,0.04,0.05,0.06,0.07,0.08,0.09,0.2,0.3,0.4,0.5,0.6,0.7,0.8,0.9,2,3,4,5,6,7,8,9], "labels": false, "grid": true, "gridDash": [1, 1], "gridColor": "#bcbcbc", "tickSize": -3, "title": null}},
            "y": {"field": "r", "type": "quantitative", "scale": {"type": "log", "domain": [0.0001, 100], "nice": false},
              "axis": {"orient": "left", "values": [0.0002,0.0003,0.0004,0.0005,0.0006,0.0007,0.0008,0.0009,0.002,0.003,0.004,0.005,0.006,0.007,0.008,0.009,0.02,0.03,0.04,0.05,0.06,0.07,0.08,0.09,0.2,0.3,0.4,0.5,0.6,0.7,0.8,0.9,2,3,4,5,6,7,8,9,20,30,40,50,60,70,80,90], "labels": false, "grid": true, "gridDash": [1, 1], "gridColor": "#bcbcbc", "tickSize": -3, "title": null}},
            "color": {"datum": "BSC DEM", "scale": {"domain": ["Barrel DEM", "BSC DEM"], "range": ["#ff0000", "#0000ff"]},
              "legend": {"orient": "none", "legendX": 260, "legendY": 8, "title": null, "symbolType": "stroke", "symbolStrokeWidth": 2.8, "symbolSize": 1000, "clipHeight": 18, "padding": 1.5, "rowPadding": 2, "symbolOffset": 3}}
          }
        },
        {
          "data": {"name": "arrowBot"},
          "mark": {"type": "rule", "color": "#ee1c1c", "strokeWidth": 3.5},
          "encoding": {
            "x": {"field": "t", "type": "quantitative", "scale": {"type": "log", "domain": [0.0001, 10], "nice": false},
              "axis": {"orient": "top", "values": [0.0001, 0.001, 0.01, 0.1, 1, 10], "labels": false, "grid": false, "tickSize": -5, "title": null}},
            "y": {"field": "r", "type": "quantitative", "scale": {"type": "log", "domain": [0.0001, 100], "nice": false},
              "axis": {"orient": "right", "values": [0.0001, 0.001, 0.01, 0.1, 1, 10, 100], "labels": false, "grid": false, "tickSize": -5, "title": null}},
            "x2": {"field": "t2"},
            "y2": {"field": "r2"}
          }
        },
        {
          "data": {"name": "headBot"},
          "mark": {"type": "point", "shape": "triangle-right", "filled": true, "color": "#ee1c1c", "opacity": 1, "size": 160, "angle": -13.2},
          "encoding": {
            "x": {"field": "t", "type": "quantitative", "scale": {"type": "log", "domain": [0.0001, 10], "nice": false},
              "axis": {"orient": "bottom", "values": [0.0001, 0.001, 0.01, 0.1, 1, 10], "labelExpr": "datum.value < 0.0005 ? '-4' : datum.value < 0.005 ? '-3' : datum.value < 0.05 ? '-2' : datum.value < 0.5 ? '-1' : datum.value < 5 ? '0' : '1'", "labelFontSize": 11, "labelAlign": "left", "labelOffset": 2, "labelPadding": 8, "ticks": false, "grid": false, "title": null}},
            "y": {"field": "r", "type": "quantitative", "scale": {"type": "log", "domain": [0.0001, 100], "nice": false},
              "axis": {"orient": "left", "values": [0.0001, 0.01, 1, 100], "labelExpr": "datum.value < 0.0005 ? '-4' : datum.value < 0.05 ? '-2' : datum.value < 5 ? '0' : '2'", "labelFontSize": 11, "labelAlign": "left", "labelOffset": -5, "labelPadding": 15, "ticks": false, "grid": false, "title": null}}
          }
        },
        {
          "data": {"name": "notesBot"},
          "mark": {"type": "text", "font": "Liberation Sans", "fontWeight": "bold", "fontSize": 17, "color": "#111111", "align": "right", "baseline": "middle"},
          "encoding": {
            "x": {"field": "t", "type": "quantitative", "scale": {"type": "log", "domain": [0.0001, 10], "nice": false}, "axis": null},
            "y": {"field": "r", "type": "quantitative", "scale": {"type": "log", "domain": [0.0001, 100], "nice": false}, "axis": null},
            "text": {"field": "label"}
          }
        }
      ],
      "resolve": {"axis": {"x": "independent", "y": "independent"}}
    }
  ],
  "resolve": {"scale": {"color": "independent"}, "legend": {"color": "independent"}},
  "config": {
    "font": "Liberation Sans",
    "view": {"stroke": "#262626", "strokeWidth": 1},
    "axis": {
      "labelFont": "Liberation Sans", "labelFontSize": 15, "labelColor": "#262626", "labelFlush": false, "labelOverlap": false,
      "titleFont": "Liberation Sans", "titleFontSize": 17, "titleFontWeight": "normal", "titleColor": "#262626",
      "domain": false, "tickColor": "#262626", "tickWidth": 1,
      "gridColor": "#dcdcdc", "gridOpacity": 1, "gridWidth": 1
    },
    "legend": {
      "labelFont": "Liberation Sans", "labelFontSize": 15, "labelColor": "#000000",
      "fillColor": "#ffffff", "strokeColor": "#262626", "cornerRadius": 0, "labelOffset": 3
    }
  }
}
